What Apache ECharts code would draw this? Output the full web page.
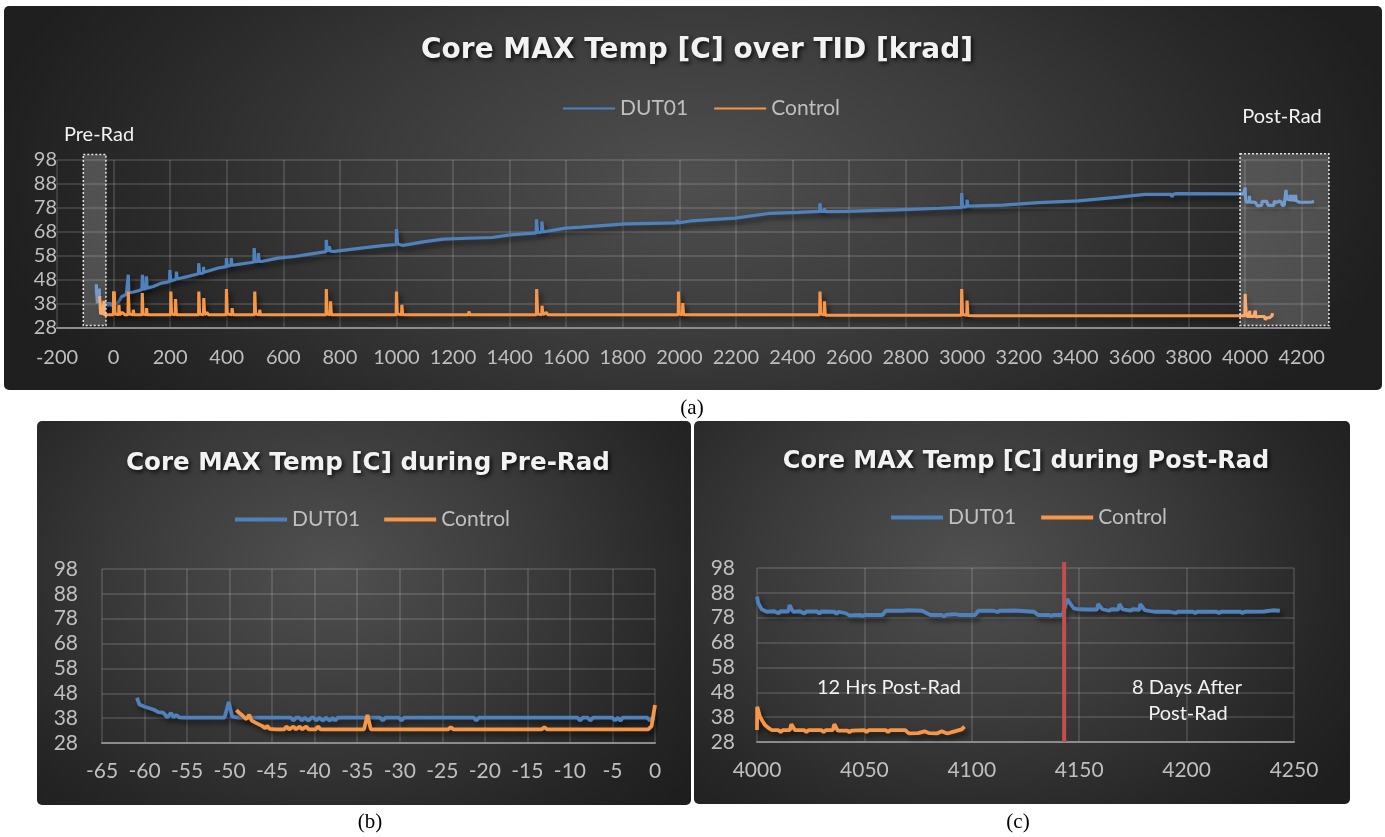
<!DOCTYPE html>
<html><head><meta charset="utf-8">
<script src="https://cdn.jsdelivr.net/npm/echarts@6/dist/echarts.min.js"></script>
<style>
html,body{margin:0;padding:0;background:#fff;}
#wrap{position:relative;width:1385px;height:837px;overflow:hidden;}
.panel{position:absolute;border-radius:5px;}
#pa{left:4px;top:6px;width:1378px;height:384px;background:radial-gradient(ellipse 52% 95% at 50% 45%,#4f4f4f 0%,#3b3b3b 45%,#282828 80%,#1f1f1f 100%);}
#pb{left:37px;top:421px;width:654px;height:384px;background:radial-gradient(ellipse 70% 90% at 45% 38%,#505050 0%,#3a3a3a 45%,#262626 80%,#1e1e1e 100%);}
#pc{left:694px;top:421px;width:656px;height:383px;background:radial-gradient(ellipse 70% 90% at 42% 38%,#505050 0%,#3a3a3a 45%,#262626 80%,#1e1e1e 100%);}
#chart{position:absolute;left:0;top:0;width:1385px;height:837px;}
</style></head>
<body><div id="wrap"><div class="panel" id="pa"></div><div class="panel" id="pb"></div><div class="panel" id="pc"></div><div id="chart"></div></div>
<script>
// ---------- data ----------
const seriesNames = ['DUT01', 'Control'];
const xTicksA = [-200, 4300, 200];
const xTicksB = [-65, 0, 5];
const xTicksC = [4000, 4250, 50];
const yTicks = [28, 98, 10];

// Pre-Rad (krad axis, -61..0)
const preDut = [[-60.9,46.2],[-60.6,43.5],[-60.0,42.6],[-59.4,42.0],[-58.9,41.4],[-58.4,40.4],[-57.8,40.2],[-57.3,38.3],[-56.9,40.1],[-56.6,38.3],[-56.3,39.3],[-55.9,38.3],[-55.5,38.2],[-52.0,38.2],[-50.6,38.2],[-50.1,44.5],[-49.7,38.6],[-49.0,38.2],[-42.8,38.2],[-42.5,37.0],[-42.2,38.2],[-41.8,38.2],[-41.5,37.0],[-41.2,38.2],[-41.0,38.2],[-40.7,37.0],[-40.4,38.2],[-40.1,38.2],[-39.8,37.0],[-39.5,38.2],[-39.3,38.2],[-39.0,37.0],[-38.7,38.2],[-38.5,38.2],[-38.2,37.0],[-37.9,38.2],[-37.8,38.2],[-37.6,37.0],[-37.3,38.2],[-32.3,38.2],[-32.0,37.0],[-31.7,38.2],[-30.1,38.2],[-29.8,37.0],[-29.5,38.2],[-21.3,38.2],[-21.0,37.0],[-20.7,38.2],[-9.1,38.2],[-8.8,37.0],[-8.5,38.2],[-7.9,38.2],[-7.6,37.0],[-7.3,38.2],[-5.0,38.2],[-4.7,37.0],[-4.4,38.2],[-4.3,38.2],[-4.05,37.0],[-3.8,38.2],[-0.9,38.2],[-0.6,37.0],[-0.3,38.2],[0,38.2]];
const preCtl = [[-49.2,41.3],[-48.9,40.2],[-48.6,39.4],[-48.3,38.4],[-48.0,37.6],[-47.7,39.4],[-47.4,37.0],[-46.8,35.9],[-46.2,34.9],[-45.8,33.9],[-45.6,34.9],[-45.3,33.7],[-44.5,33.5],[-43.6,33.5],[-43.3,34.6],[-43.0,33.5],[-42.8,33.5],[-42.5,34.6],[-42.2,33.5],[-42.0,33.5],[-41.75,34.6],[-41.5,33.5],[-41.3,33.5],[-41.0,34.6],[-40.7,33.5],[-39.9,33.5],[-39.6,34.6],[-39.3,33.5],[-34.2,33.5],[-33.8,39.3],[-33.4,33.5],[-24.3,33.5],[-24.0,34.3],[-23.7,33.5],[-13.3,33.5],[-13.0,34.3],[-12.7,33.5],[-0.8,33.5],[-0.4,34.8],[0,43.3]];

// During irradiation (0..4000 krad)
const tidDut = [[2,38.0],[15,38.4],[28,41.0],[45,42.0],[51,42.3],[52,50.2],[54,42.6],[70,43.0],[90,43.6],[100,44.0],[102,50.2],[105,44.2],[115,44.4],[116,49.5],[119,44.6],[140,45.3],[169,46.7],[185,47.0],[198,47.4],[199,52.2],[202,47.6],[205,48.1],[221,48.3],[222,51.5],[225,48.4],[264,49.5],[290,50.3],[300,50.6],[301,55.0],[304,50.8],[317,50.9],[318,53.5],[320,51.2],[370,53.0],[398,53.6],[399,57.1],[402,53.8],[415,54.1],[416,57.1],[419,54.2],[428,54.3],[480,55.2],[496,55.5],[497,61.3],[500,55.6],[511,55.7],[512,59.2],[515,55.7],[523,55.7],[581,57.1],[640,57.8],[699,58.9],[751,59.8],[752,64.7],[755,60.0],[762,60.0],[763,62.0],[766,60.0],[781,59.9],[875,61.3],[950,62.3],[999,62.8],[1000,69.2],[1004,63.0],[1023,62.4],[1100,64.0],[1165,65.0],[1250,65.4],[1338,65.7],[1401,66.8],[1494,67.6],[1495,73.3],[1499,67.8],[1513,67.9],[1514,72.4],[1518,68.0],[1527,68.2],[1598,69.6],[1653,70.0],[1811,71.4],[1900,71.6],[1991,71.8],[1992,73.0],[1995,71.8],[2040,72.6],[2197,73.8],[2322,75.8],[2420,76.2],[2496,76.6],[2497,80.0],[2500,76.6],[2512,76.6],[2513,78.0],[2516,76.5],[2591,76.6],[2765,77.2],[2922,77.9],[2997,78.3],[2998,84.2],[3001,78.5],[3016,78.6],[3017,81.4],[3020,78.8],[3049,78.9],[3143,79.2],[3268,80.2],[3410,81.0],[3553,82.5],[3646,83.7],[3740,83.7],[3741,82.5],[3745,83.7],[3757,84.0],[3994,83.9],[3999,83.9]];
const tidCtl = [[1,34.0],[2,34.0],[2.6,43.2],[5,33.8],[18,33.5],[19,37.7],[21,33.5],[30,34.5],[40,33.5],[51,33.5],[52,43.2],[55,33.8],[62,33.5],[69,33.5],[69.6,35.6],[72,33.5],[85,33.5],[100.5,33.5],[101.4,42.6],[104,33.8],[116,33.5],[116.6,36.3],[119,33.5],[201.5,33.5],[202.4,43.2],[205,33.8],[218,33.5],[219,40.1],[222,33.5],[300.5,33.5],[301.3,43.2],[304,33.8],[318,33.5],[318.8,40.5],[322,33.5],[330,34.5],[335,33.5],[398,33.5],[399,44.2],[402,33.8],[418,33.5],[419,36.3],[422,33.5],[498,33.5],[499,43.2],[502,33.8],[516,33.5],[516.5,35.6],[519,33.5],[751,33.5],[752,44.2],[755,33.8],[766,33.5],[767,39.1],[770,33.5],[999,33.5],[1000,43.2],[1003,33.8],[1018,33.5],[1019,37.7],[1022,33.5],[1255,33.5],[1256,34.9],[1259,33.5],[1494.6,33.5],[1495.6,44.2],[1499,33.8],[1513.5,33.5],[1514.5,37.3],[1518,33.5],[1530,34.5],[1535,33.5],[1919,33.5],[1920,34.3],[1930,33.5],[1996,33.5],[1997,43.2],[2000,33.8],[2011,33.5],[2012,38.4],[2015,33.5],[2109,33.5],[2110,34.3],[2120,33.5],[2199,33.5],[2200,34.3],[2210,33.5],[2299,33.5],[2300,34.3],[2310,33.5],[2496,33.5],[2497,43.2],[2500,33.8],[2512,33.5],[2513,39.1],[2516,33.3],[2997,33.3],[2998,44.2],[3001,33.6],[3016,33.3],[3017,39.4],[3020,33.2],[3050,33.1],[3999,33.1]];

// Post-Rad (4000..4245)
const postDut = [[4000,86.5],[4000.6,83.8],[4002.2,81.4],[4004.5,80.4],[4008,80.6],[4010,79.8],[4011,80.6],[4014.5,80.5],[4015.2,83.1],[4016.8,80.4],[4020,80.6],[4022,79.7],[4023,80.5],[4028,80.5],[4029,79.7],[4030,80.5],[4036,80.4],[4037,79.6],[4038,80.4],[4041.4,79.8],[4043,78.9],[4048,79.1],[4049,78.6],[4050,79.1],[4058.4,79.1],[4060,80.8],[4068,80.8],[4070,81.0],[4076.9,80.8],[4080.7,79.1],[4086,79.1],[4087,78.5],[4088,79.1],[4092,79.4],[4094,79.1],[4101.5,79.1],[4103,80.8],[4110,80.8],[4112,80.3],[4113,80.8],[4120,80.9],[4129,80.4],[4130.8,79.1],[4136,79.1],[4137,78.6],[4138,79.1],[4142.3,79.1],[4144.4,85.5],[4147.4,81.8],[4150,81.4],[4154,81.3],[4158.3,81.3],[4158.8,83.5],[4160.8,81.4],[4164,80.8],[4165,81.4],[4168.2,81.3],[4168.7,83.5],[4170.2,81.4],[4174,80.9],[4175,81.4],[4178,81.2],[4178.4,83.5],[4180.5,81.1],[4185,80.4],[4191.8,80.4],[4195,79.9],[4196,80.4],[4203,80.4],[4204,79.9],[4205,80.4],[4214,80.4],[4215,79.9],[4216,80.4],[4225,80.4],[4226,79.9],[4227,80.4],[4236,80.5],[4240,81.0],[4243.4,80.8]];
const postCtl = [[4000,32.8],[4000.1,42.2],[4001.4,38.2],[4002.5,36.5],[4003.7,34.8],[4005,33.9],[4006.8,32.8],[4010,32.8],[4011,32.0],[4012,32.8],[4015.3,32.8],[4016,35.2],[4017.6,32.8],[4022,32.8],[4023,32.0],[4024,32.8],[4030,32.8],[4031,32.0],[4032,32.8],[4035.3,32.8],[4036,35.2],[4037.6,32.6],[4042,32.6],[4043,31.9],[4044,32.6],[4050,32.8],[4051,32.0],[4052,32.8],[4060,32.8],[4061,32.0],[4062,32.8],[4069,32.8],[4070.7,31.5],[4075,31.6],[4078,32.3],[4080,31.6],[4084,31.5],[4086,32.3],[4088,31.6],[4089,31.5],[4092,32.3],[4095.3,33.1],[4096.6,34.2]];

// annotations (data coordinates)
const preRadBox = [[-107, 100.3], [-27, 29]];
const postRadBox = [[3982, 100.6], [4296, 29]];
const splitMarkX = 4143;

// ---------- styles ----------
const BLUE = '#4f81bd', ORANGE = '#f79646';
const LBL = '#bfbfbf';
const FONT = 'Lato';
const gridLine = {show: true, lineStyle: {color: 'rgba(255,255,255,0.17)', width: 1.5}};
const titleStyle = (size) => ({color: '#f2f2f2', fontFamily: 'DejaVu Sans', fontWeight: 'bold', fontSize: size,
  textShadowColor: 'rgba(0,0,0,0.8)', textShadowBlur: 4, textShadowOffsetX: 2, textShadowOffsetY: 2});
const plain = (v) => String(v);

function xAxis(gi, t, fs, margin, extra) {
  return Object.assign({type: 'value', gridIndex: gi, min: t[0], max: t[1], interval: t[2],
    axisLine: {show: true, onZero: false, lineStyle: {color: '#8c8c8c', width: 2}},
    axisTick: {show: false},
    axisLabel: {color: LBL, fontFamily: FONT, fontSize: fs, margin: margin, formatter: plain},
    splitLine: gridLine}, extra || {});
}
function yAxis(gi, fs, margin) {
  return {type: 'value', gridIndex: gi, min: yTicks[0], max: yTicks[1], interval: yTicks[2],
    axisLine: {show: false}, axisTick: {show: false},
    axisLabel: {color: LBL, fontFamily: FONT, fontSize: fs, margin: margin, formatter: plain},
    splitLine: gridLine};
}
function line(name, gi, data, color, w) {
  return {name: name, type: 'line', xAxisIndex: gi, yAxisIndex: gi, data: data, symbol: 'none', showSymbol: false,
    clip: false, animation: false, color: color,
    lineStyle: {color: color, width: w, shadowColor: 'rgba(0,0,0,0.55)', shadowBlur: 5, shadowOffsetX: 3, shadowOffsetY: 4}};
}
function legend(left, top, h, gap) {
  return {left: left, top: top, icon: 'rect', itemWidth: 52, itemHeight: h, itemGap: gap, data: seriesNames,
    textStyle: {color: LBL, fontFamily: FONT, fontSize: 21}};
}

const chart = echarts.init(document.getElementById('chart'), null, {renderer: 'canvas'});
chart.setOption({
  backgroundColor: 'transparent',
  animation: false,
  title: [
    {text: 'Core MAX Temp [C] over TID [krad]', left: 692, top: 32, textAlign: 'center', textStyle: titleStyle(28)},
    {text: 'Core MAX Temp [C] during Pre-Rad', left: 363, top: 446, textAlign: 'center', textStyle: titleStyle(24.6)},
    {text: 'Core MAX Temp [C] during Post-Rad', left: 1021, top: 445, textAlign: 'center', textStyle: titleStyle(24)}
  ],
  legend: [legend(558, 93, 2, 26), legend(230, 504, 4, 24), legend(886, 502, 4, 25)],
  grid: [
    {left: 57, top: 160, width: 1273, height: 168},
    {left: 102, top: 569, width: 553, height: 174},
    {left: 757, top: 568, width: 537, height: 174}
  ],
  xAxis: [
    xAxis(0, xTicksA, 20, 20, {axisLabel: {color: LBL, fontFamily: FONT, fontSize: 20, margin: 20, showMaxLabel: false, formatter: plain}, splitLine: Object.assign({showMaxLine: false}, gridLine)}),
    xAxis(1, xTicksB, 21, 18),
    xAxis(2, xTicksC, 21, 18)
  ],
  yAxis: [yAxis(0, 20, 0), yAxis(1, 21, 24), yAxis(2, 21, 22)],
  series: [
    line('DUT01', 0, preDut.concat(tidDut, postDut), BLUE, 3.2),
    line('Control', 0, preCtl.concat(tidCtl, postCtl), ORANGE, 3.1),
    line('DUT01', 1, preDut, BLUE, 3.8),
    line('Control', 1, preCtl, ORANGE, 3.8),
    line('DUT01', 2, postDut, BLUE, 3.8),
    line('Control', 2, postCtl, ORANGE, 3.8)
  ]
});

// overlays placed through the axes' own scales
function px(gi, p) { return chart.convertToPixel({gridIndex: gi}, p); }
function boxRect(gi, b) {
  const a = px(gi, b[0]), c = px(gi, b[1]);
  return {type: 'rect', z: 100, shape: {x: a[0], y: a[1], width: c[0] - a[0], height: c[1] - a[1]},
    style: {fill: 'rgba(255,255,255,0.2)', stroke: '#e6e6e6', lineWidth: 1.5, lineDash: [2, 2]}};
}
const rTop = px(2, [splitMarkX, 100.4]), rBot = px(2, [splitMarkX, 28]);
const txt = (x, y, s, size, color, fam) => ({type: 'text', z: 101, x: x, y: y,
  style: {text: s, fill: color || '#f2f2f2', font: (size || 20) + 'px ' + (fam || FONT), textAlign: 'center', textVerticalAlign: 'middle'}});

chart.setOption({
  graphic: [
    boxRect(0, preRadBox),
    boxRect(0, postRadBox),
    {type: 'line', z: 100, shape: {x1: rTop[0], y1: rTop[1], x2: rBot[0], y2: rBot[1]}, style: {stroke: '#c0504d', lineWidth: 4}},
    txt(99, 135, 'Pre-Rad', 20),
    txt(1282, 117, 'Post-Rad', 20),
    txt(889, 688, '12 Hrs Post-Rad', 20),
    txt(1187, 688, '8 Days After', 20),
    txt(1188, 714, 'Post-Rad', 20),
    txt(692, 408, '(a)', 21, '#000', '"Liberation Serif"'),
    txt(370, 822, '(b)', 21, '#000', '"Liberation Serif"'),
    txt(1018, 822, '(c)', 21, '#000', '"Liberation Serif"')
  ]
});
</script></body></html>
